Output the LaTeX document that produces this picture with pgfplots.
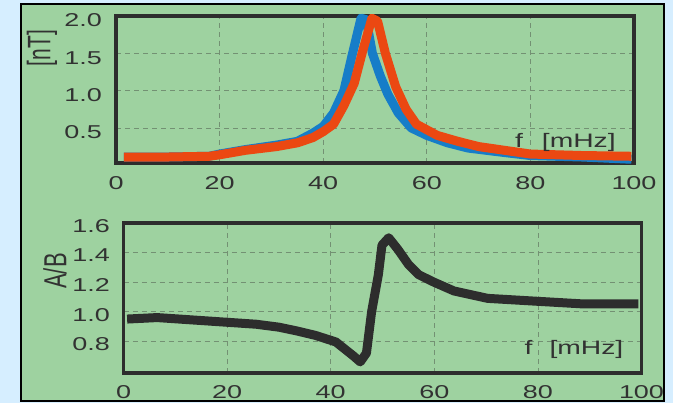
\documentclass[border=0pt]{standalone}
\usepackage{fontspec}
\setmainfont{Liberation Sans}
\newfontfamily\widefont{Liberation Sans}[FakeStretch=1.45]
\usepackage{graphicx}
\usepackage{pgfplots}
\pgfplotsset{compat=1.18}

\definecolor{bgblue}{RGB}{214,238,255}
\definecolor{panelgreen}{RGB}{158,210,160}
\definecolor{framecol}{RGB}{45,45,45}
\definecolor{textcol}{RGB}{50,50,50}
\definecolor{gridcol}{RGB}{115,145,115}
\definecolor{curveblue}{RGB}{22,125,200}
\definecolor{curveorange}{RGB}{235,72,18}

\pgfplotsset{
  panel/.style={
    scale only axis, clip=false,
    axis line style={line width=3.5pt, draw=framecol},
    major tick length=0pt,
    grid=major,
    major grid style={line width=0.8pt, draw=gridcol, dash pattern=on 5pt off 4pt},
    tick label style={font=\widefont\fontsize{18.6}{20}\selectfont, text=textcol, inner sep=0pt},
    xtick={0,20,...,100}, xticklabels={0,20,40,60,80,100},
    xmin=0, xmax=100,
  },
}

\begin{document}
\begin{tikzpicture}[x=1pt,y=1pt]
\fill[bgblue] (0pt,0pt) rectangle (673pt,403pt);
\filldraw[fill=panelgreen, draw=black, line width=1.5pt] (21pt,2pt) rectangle (664pt,399pt);

% upper panel: field amplitude
\begin{axis}[panel, at={(116pt,240pt)}, anchor=south west,
  width=518pt, height=147pt,
  ymin=0.03, ymax=2.0,
  ytick={0.5,1,1.5,2}, yticklabels={0.5,1.0,1.5,2.0},
  xticklabel style={anchor=north, yshift=-13pt},
  yticklabel style={anchor=east, xshift=-14pt, yshift=-4.5pt}]
\addplot[draw=curveblue, line width=9pt, line join=round] coordinates {
  (1.5,0.11) (10,0.11) (18,0.12) (20,0.15) (25,0.21) (31,0.27) (35,0.32)
  (38,0.43) (40,0.52) (42,0.7) (44,1.0) (45.5,1.45) (47.3,1.97) (48.3,1.95)
  (49.5,1.5) (51,1.2) (52.5,0.95) (54.5,0.7) (57,0.5) (60,0.4) (64,0.3)
  (68,0.23) (75,0.17) (80,0.13) (90,0.11) (99.5,0.08)};
\addplot[draw=curveorange, line width=9pt, line join=round] coordinates {
  (1.5,0.11) (10,0.11) (18,0.12) (20,0.14) (25,0.2) (31,0.25) (35,0.3)
  (38,0.37) (40,0.45) (42,0.55) (44,0.8) (46,1.1) (47.5,1.5) (49.4,1.97)
  (50.5,1.93) (52,1.5) (54,1.05) (56,0.75) (58,0.55) (62,0.4) (66,0.32)
  (70,0.25) (75,0.2) (80,0.15) (90,0.13) (99.5,0.12)};
\end{axis}

% lower panel: ratio A/B
\begin{axis}[panel, at={(123.5pt,30pt)}, anchor=south west,
  width=518pt, height=150pt,
  ymin=0.585, ymax=1.6,
  ytick={0.8,1.0,1.2,1.4,1.6}, yticklabels={0.8,1.0,1.2,1.4,1.6},
  xticklabel style={anchor=north, yshift=-12pt},
  yticklabel style={anchor=east, xshift=-13.5pt, yshift=-3pt}]
\addplot[draw=framecol, line width=9pt, line join=round] coordinates {
  (0.7,0.95) (6.5,0.96) (15,0.94) (25.6,0.915) (30,0.895) (33.4,0.87)
  (37,0.84) (41,0.795) (44.4,0.7) (45.7,0.66) (46.9,0.72) (47.9,1.0)
  (49.2,1.25) (49.9,1.45) (51.2,1.5) (53,1.42) (55,1.32) (57,1.25) (59.9,1.2)
  (63.8,1.14) (70.3,1.09) (80,1.07) (88.4,1.053) (99.4,1.053)};
\end{axis}

% axis titles
\node[text=textcol, rotate=90] at (42pt,355pt) {\scalebox{1}[1.55]{\fontsize{21}{22}\selectfont [nT]}};
\node[text=textcol, rotate=90] at (55pt,132pt) {\scalebox{1}[1.45]{\fontsize{22}{24}\selectfont A/B}};
\begin{scope}[every node/.style={anchor=base west, inner sep=0pt, text=textcol,
    font=\widefont\fontsize{19.5}{21}\selectfont}]
\node at (515pt,255pt) {f};
\node at (541.7pt,255pt) {[mHz]};
\node at (524.3pt,48pt) {f};
\node at (549.3pt,48pt) {[mHz]};
\end{scope}
\end{tikzpicture}
\end{document}
